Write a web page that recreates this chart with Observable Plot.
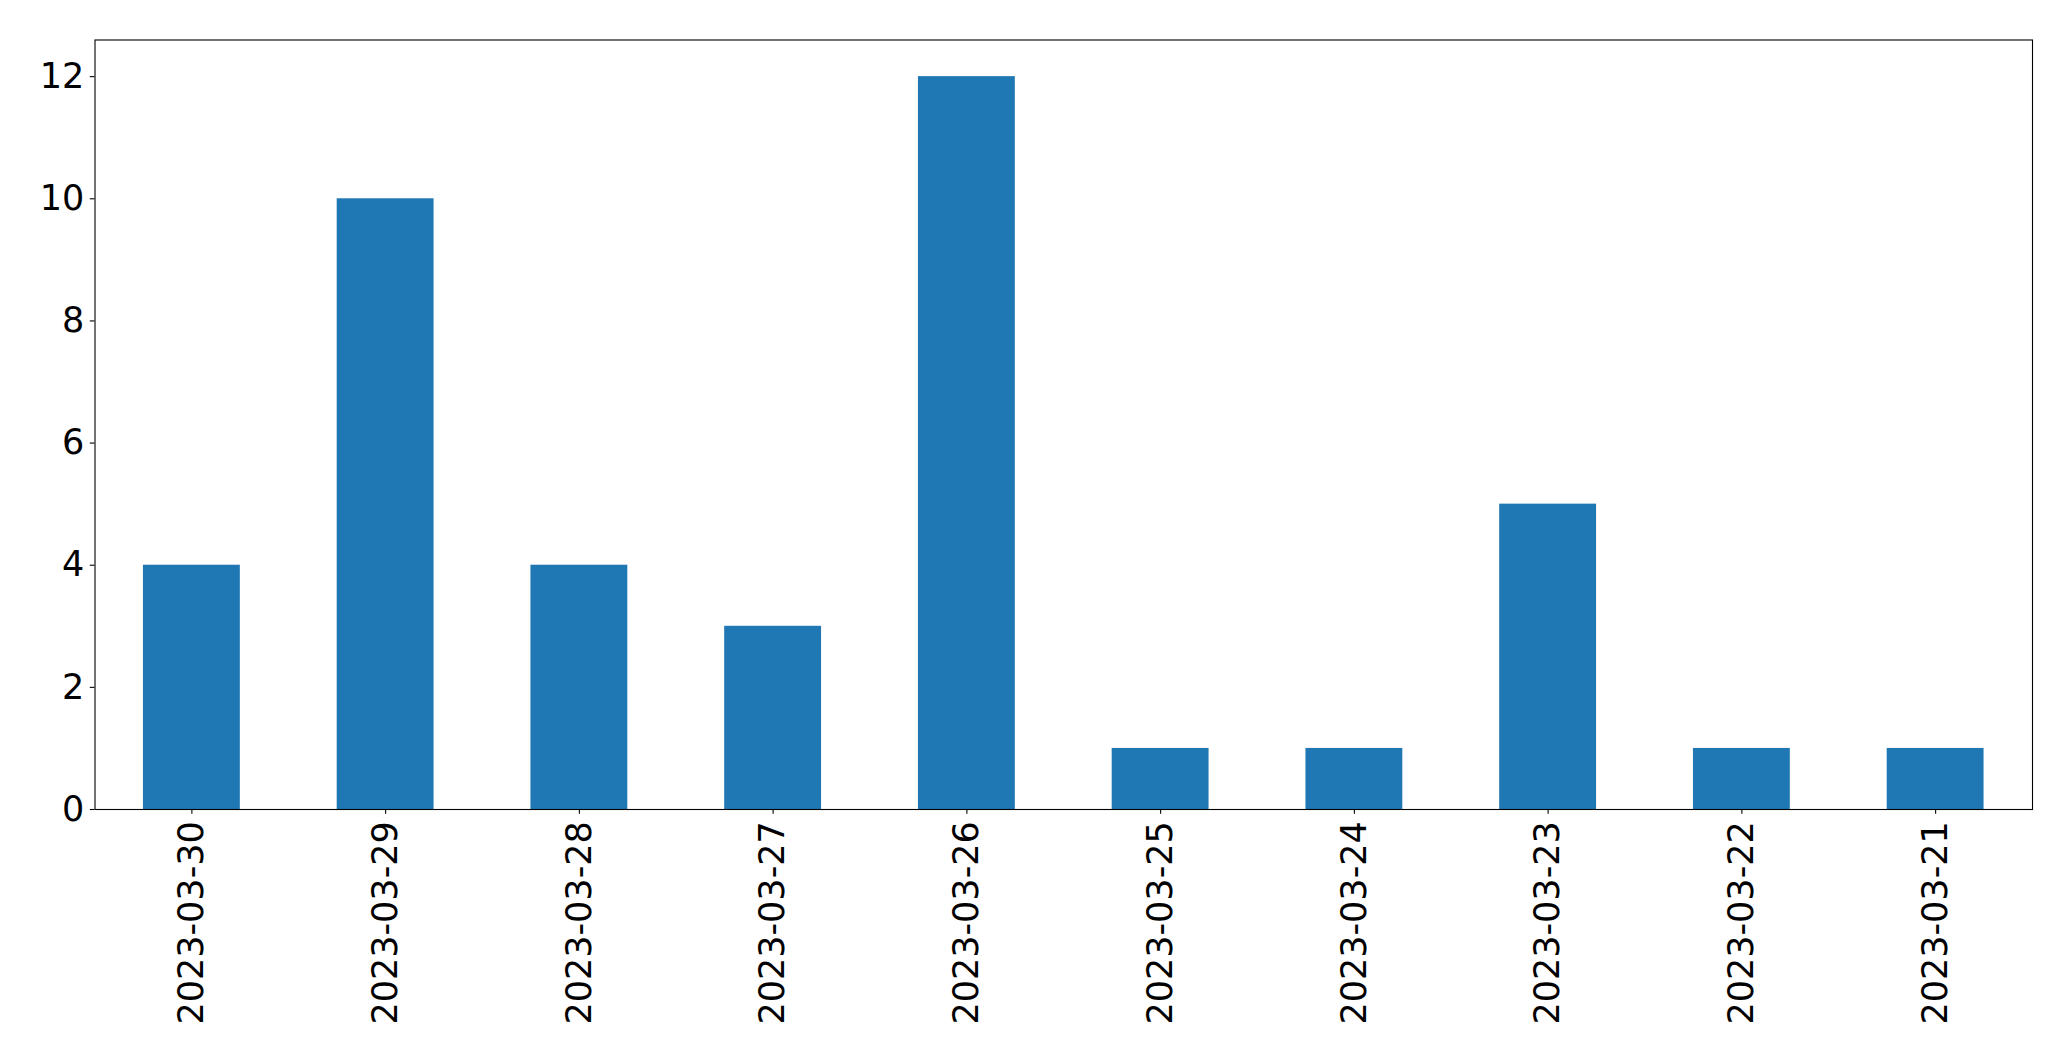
<!DOCTYPE html>
<html>
<head>
<meta charset="utf-8">
<script src="https://cdn.jsdelivr.net/npm/d3@7"></script>
<script src="https://cdn.jsdelivr.net/npm/@observablehq/plot@0.6"></script>
<style>
  html, body { margin: 0; padding: 0; background: #fff; }
  svg { display: block; }
</style>
</head>
<body>
<div id="chart"></div>
<script>
const dates = ["2023-03-30","2023-03-29","2023-03-28","2023-03-27","2023-03-26","2023-03-25","2023-03-24","2023-03-23","2023-03-22","2023-03-21"];
const counts = [4, 10, 4, 3, 12, 1, 1, 5, 1, 1];
const yTicks = [0, 2, 4, 6, 8, 10, 12];

const data = dates.map((d, i) => ({date: d, count: counts[i]}));

const chart = Plot.plot({
  width: 2071,
  height: 1061,
  marginLeft: 94.5,
  marginRight: 39,
  marginTop: 39.5,
  marginBottom: 252,
  style: {fontFamily: "DejaVu Sans", fontSize: "35px", color: "#000", background: "#fff"},
  x: {domain: dates, paddingInner: 0.5, paddingOuter: 0.25, round: false, label: null},
  y: {domain: [0, 12.6], label: null},
  marks: [
    Plot.barY(data, {x: "date", y: "count", fill: "#1f77b4"}),
    Plot.axisX({tickRotate: -90, tickSize: 4.7, tickPadding: 7, fontSize: 35, stroke: "#000", strokeWidth: 1.1}),
    Plot.axisY({ticks: yTicks, tickFormat: d => String(d), tickSize: 4.7, tickPadding: 6, fontSize: 35, stroke: "#000", strokeWidth: 1.1}),
    Plot.frame({stroke: "#000", strokeWidth: 1.1})
  ]
});
document.getElementById("chart").appendChild(chart);
</script>
</body>
</html>
